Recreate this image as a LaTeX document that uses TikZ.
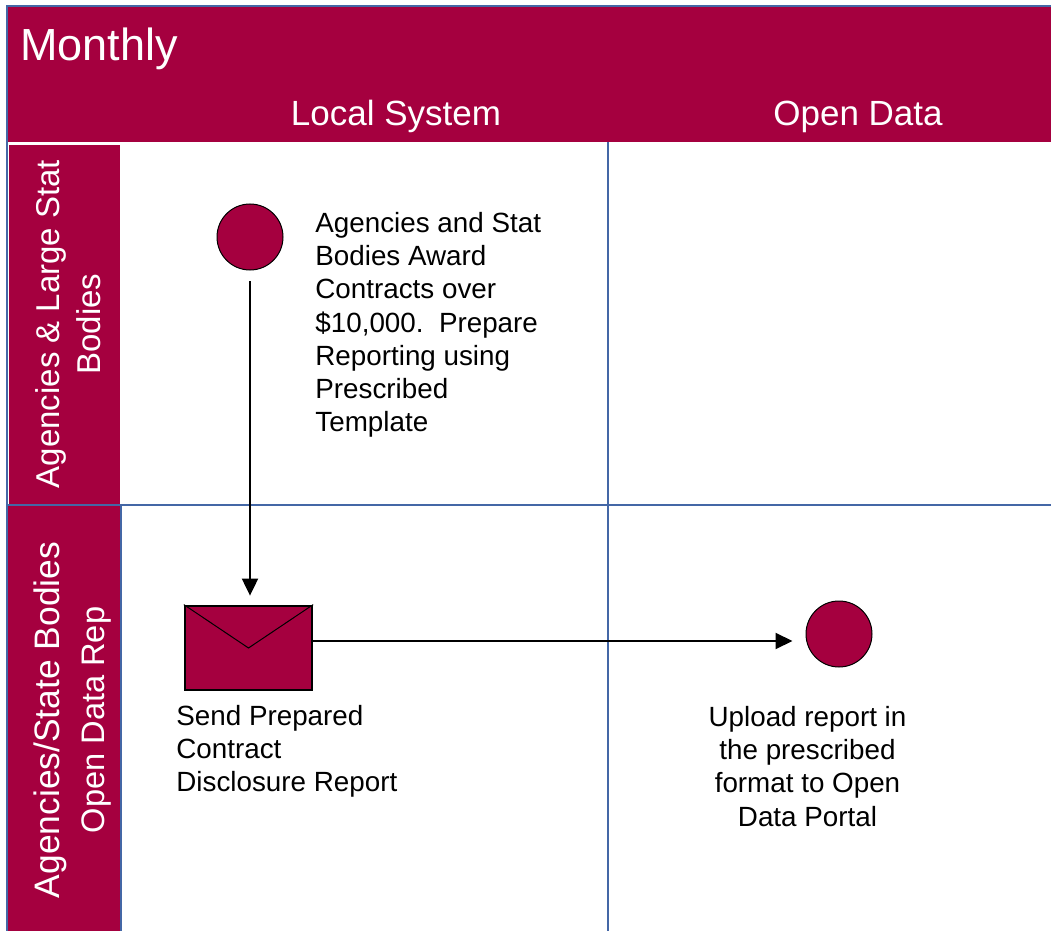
\documentclass[tikz,border=0pt]{standalone}
\usepackage{fontspec}
\setmainfont{Liberation Sans}
\usetikzlibrary{arrows.meta}

\definecolor{laneRed}{HTML}{A5003F}
\definecolor{laneBlue}{HTML}{4467A6}

\tikzset{
  event/.style={circle, draw=black, line width=0.5pt, fill=laneRed, minimum size=33pt, inner sep=0pt},
  message/.style={rectangle, draw=black, line width=1.2pt, fill=laneRed, minimum width=63.5pt, minimum height=42.2pt, inner sep=0pt},
  flow/.style={-{Triangle[length=8.5pt,width=8pt]}, line width=1pt},
  note/.style={inner sep=0pt, align=left, font=\fontsize{13.9pt}{16.6pt}\selectfont},
  title/.style={white, inner sep=0pt, anchor=base, font=\fontsize{17.5pt}{20pt}\selectfont},
  lane/.style={white, inner sep=0pt, rotate=90, anchor=north, align=center},
  divider/.style={laneBlue, line width=0.9pt}
}

\begin{document}
\begin{tikzpicture}[x=0.5pt,y=-0.5pt]

                    \useasboundingbox (0,0) rectangle (1051,931);

                    % header and lane labels
                    \fill[laneRed] (8,7) rectangle (1051,142);
                    \fill[laneRed] (9,145) rectangle (120,505);
                    \fill[laneRed] (8,505) rectangle (121,931);

                    \draw[divider] (7,931) -- (7,6) -- (1051,6);
                    \draw[divider] (7,505) -- (1051,505);
                    \draw[divider] (121,505) -- (121,931);
                    \draw[divider] (608,142) -- (608,931);

                    \node[title, anchor=base west, font=\fontsize{22.5pt}{26pt}\selectfont] (monthly) at (20,61) {Monthly};
                    \node[title] (local) at (396,126) {Local System};
                    \node[title] (open) at (858,126) {Open Data};

                    \node[lane, font=\fontsize{16.5pt}{20.8pt}\selectfont] (agencies) at (35,324) {Agencies \& Large Stat\\Bodies};
                    \node[lane, font=\fontsize{16.3pt}{22.5pt}\selectfont] (rep) at (33,720) {{\fontsize{17.7pt}{22.5pt}\selectfont Agencies/State Bodies}\\Open Data Rep};

                    % process
                    \node[event] (start) at (250,237) {};
                    \node[note, anchor=north west] (award) at (315,212) {Agencies and Stat\\Bodies Award\\Contracts over\\\$10,000.\ \ Prepare\\Reporting using\\Prescribed\\Template};

                    \node[message] (send) at (248.5,648) {};
                    \draw[line width=0.5pt] (send.north west) -- (send.center) -- (send.north east);
                    \node[note, anchor=north west] (sendtext) at (176,705) {Send Prepared\\Contract\\Disclosure Report};

                    \node[event] (upload) at (839,634) {};
                    \node[note, align=center, anchor=north] (uploadtext) at (807.5,706) {Upload report in\\the prescribed\\format to Open\\Data Portal};

                    \draw[flow] ([yshift=-5.5pt]start.south) -- ([yshift=4.5pt]start.south |- send.north);
                    \draw[flow] ([yshift=3.5pt]send.east) -- ([xshift=-6.5pt,yshift=-3.5pt]upload.west);

                \end{tikzpicture}
\end{document}
